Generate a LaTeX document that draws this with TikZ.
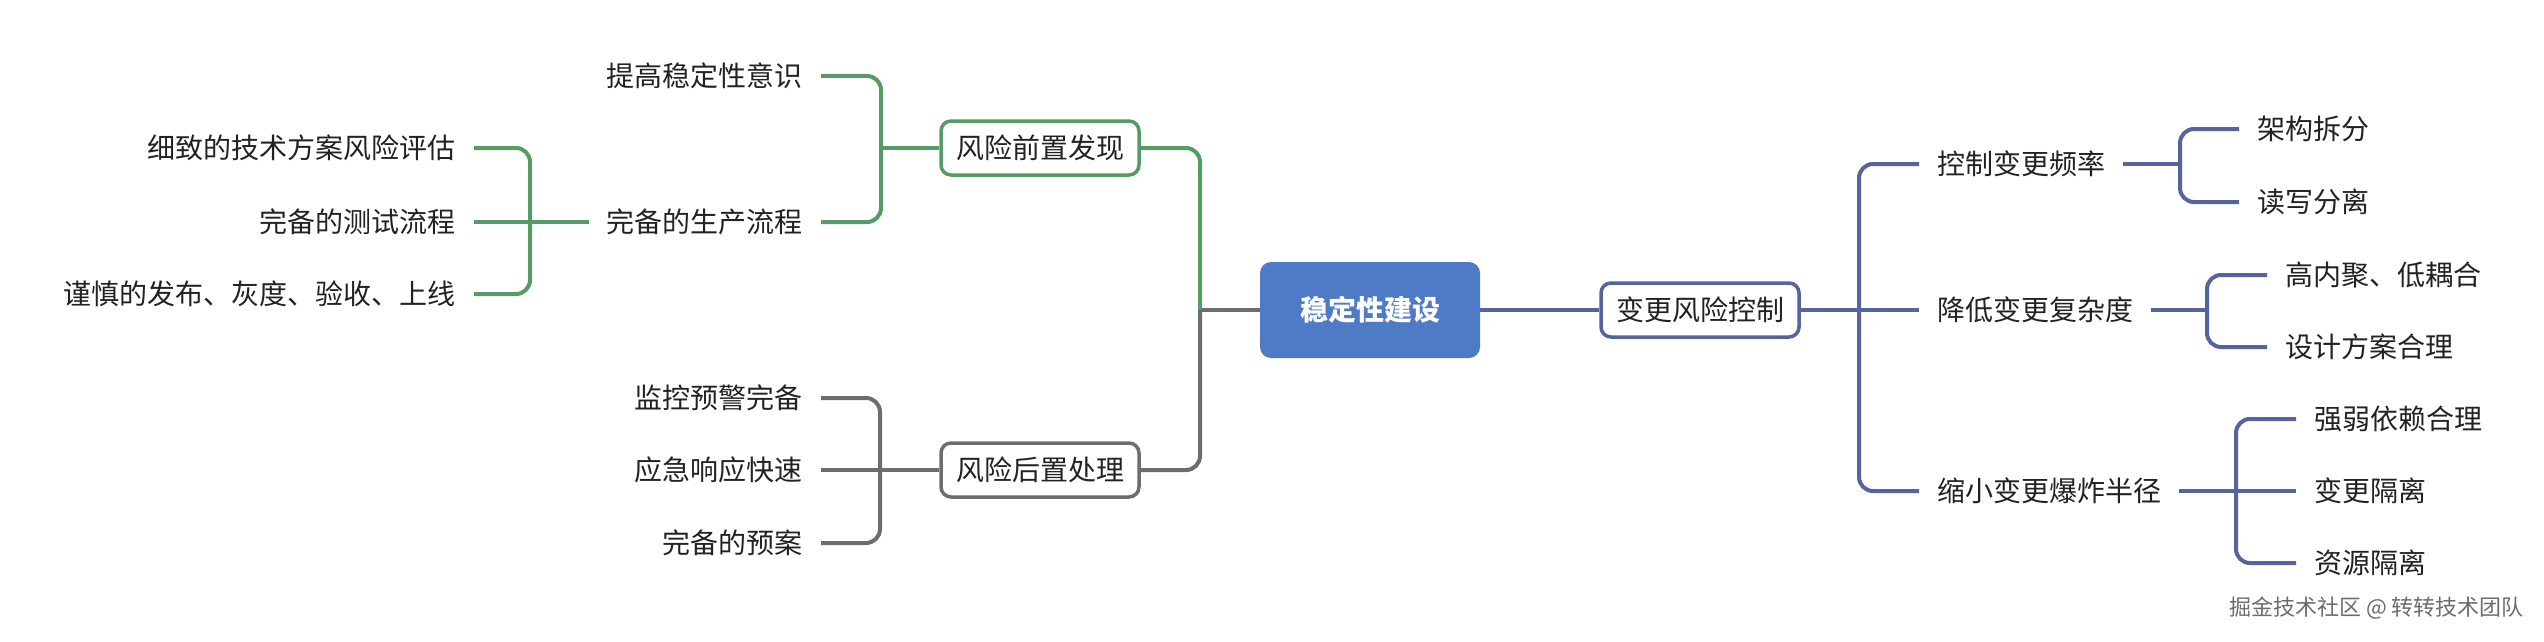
\documentclass[tikz,border=0pt]{standalone}
\usepackage{fontspec}
\setmainfont{Noto Sans CJK SC}
\usetikzlibrary{calc}
\definecolor{gr}{HTML}{569A66}
\definecolor{gy}{HTML}{6D6D6D}
\definecolor{bl}{HTML}{55649E}
\definecolor{rootfill}{HTML}{4F7AC6}
\definecolor{txt}{HTML}{222222}
\tikzset{
  leaf/.style={inner xsep=18pt, inner ysep=0pt, text=txt, font=\fontsize{28}{31}\selectfont},
  topic/.style={draw, line width=3.5pt, rounded corners=10pt, fill=white, text=txt,
    minimum width=198pt, minimum height=54pt, inner sep=0pt, font=\fontsize{28}{31}\selectfont},
  rootbox/.style={fill=rootfill, rounded corners=11pt, text=white, minimum width=220pt,
    minimum height=96pt, inner sep=0pt, font=\fontsize{28}{31}\selectfont\bfseries},
  conn/.style={line width=4pt},
  rc/.style={conn, rounded corners=14pt},
}
\begin{document}
\begin{tikzpicture}[x=1pt,y=-1pt]
\useasboundingbox (0,0) rectangle (2544,642);
% root
\node[rootbox] (root) at (1370,310) {稳定性建设};
% right side
\node[topic, draw=bl] (bg) at (1700,310) {变更风险控制};
\coordinate (jr) at (1859,310);
\node[leaf, anchor=west] (r1) at (1919,164) {控制变更频率};
\node[leaf, anchor=west] (r2) at (1919,310) {降低变更复杂度};
\node[leaf, anchor=west] (r3) at (1919,491) {缩小变更爆炸半径};
\coordinate (j1) at (2180,164);
\coordinate (j2) at (2207,310);
\coordinate (j3) at (2236,491);
\node[leaf, anchor=west] (r11) at (2239,129) {架构拆分};
\node[leaf, anchor=west] (r12) at (2239,202) {读写分离};
\node[leaf, anchor=west] (r21) at (2267,275) {高内聚、低耦合};
\node[leaf, anchor=west] (r22) at (2267,347) {设计方案合理};
\node[leaf, anchor=west] (r31) at (2296,419) {强弱依赖合理};
\node[leaf, anchor=west] (r32) at (2296,491) {变更隔离};
\node[leaf, anchor=west] (r33) at (2296,563) {资源隔离};
\begin{scope}[bl]
\draw[conn] (root.east) -- (bg.west);
\draw[conn] (bg.east) -- (r2.west);
\draw[rc] (jr) |- (r1.west);
\draw[rc] (jr) |- (r3.west);
\draw[conn] (r1.east) -- (j1);
\draw[rc] (j1) |- (r11.west);
\draw[rc] (j1) |- (r12.west);
\draw[conn] (r2.east) -- (j2);
\draw[rc] (j2) |- (r21.west);
\draw[rc] (j2) |- (r22.west);
\draw[conn] (r3.east) -- (r32.west);
\draw[rc] (j3) |- (r31.west);
\draw[rc] (j3) |- (r33.west);
\end{scope}
% left side
\coordinate (jl) at (1200,310);
\node[topic, draw=gr] (fq) at (1040,148) {风险前置发现};
\node[topic, draw=gy] (hz) at (1040,470) {风险后置处理};
\draw[conn, gy] (root.west) -- (jl);
\draw[rc, gr] (jl) |- (fq.east);
\draw[rc, gy] (jl) |- (hz.east);
% upper left
\coordinate (ja) at (881,148);
\node[leaf, anchor=east] (a1) at (821,76) {提高稳定性意识};
\node[leaf, anchor=east] (a2) at (821,222) {完备的生产流程};
\coordinate (jb) at (530,222);
\node[leaf, anchor=east] (b1) at (474,148) {细致的技术方案风险评估};
\node[leaf, anchor=east] (b2) at (474,222) {完备的测试流程};
\node[leaf, anchor=east] (b3) at (474,294) {谨慎的发布、灰度、验收、上线};
\begin{scope}[gr]
\draw[conn] (fq.west) -- (ja);
\draw[rc] (ja) |- (a1.east);
\draw[rc] (ja) |- (a2.east);
\draw[conn] (a2.west) -- (b2.east);
\draw[rc] (jb) |- (b1.east);
\draw[rc] (jb) |- (b3.east);
\end{scope}
% lower left
\coordinate (jc) at (880,470);
\node[leaf, anchor=east] (c1) at (821,398) {监控预警完备};
\node[leaf, anchor=east] (c2) at (821,470) {应急响应快速};
\node[leaf, anchor=east] (c3) at (821,543) {完备的预案};
\begin{scope}[gy]
\draw[conn] (hz.west) -- (c2.east);
\draw[rc] (jc) |- (c1.east);
\draw[rc] (jc) |- (c3.east);
\end{scope}
% watermark
\node[anchor=east, inner sep=0pt, text=gray!85!black, font=\fontsize{22}{24}\selectfont] (wm) at (2524,608) {掘金技术社区 @ 转转技术团队};
\end{tikzpicture}
\end{document}
